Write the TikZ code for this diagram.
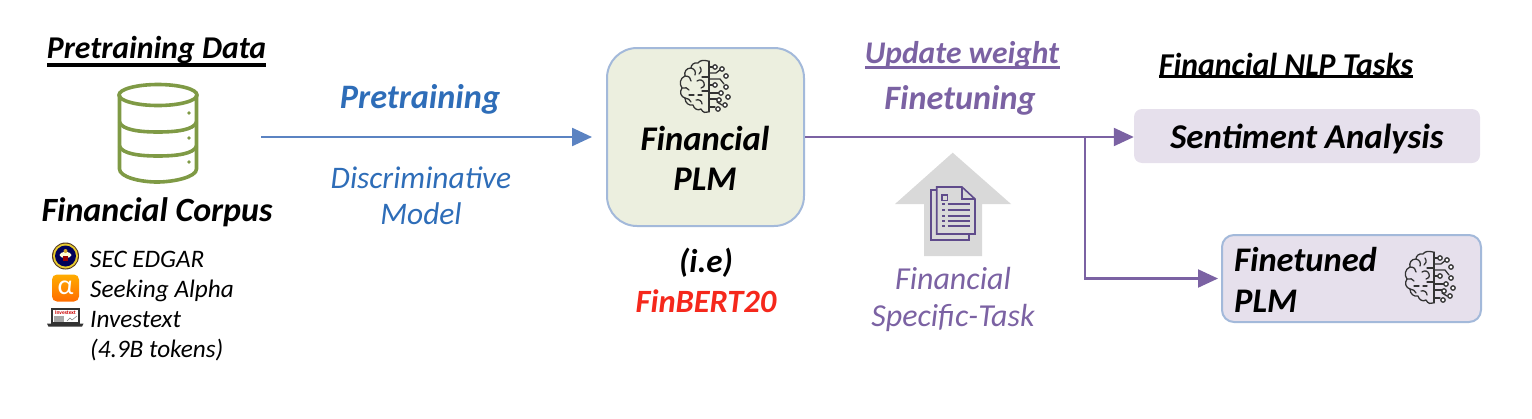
\documentclass[tikz,border=0pt]{standalone}
\usepackage{fontspec}
\setmainfont{Carlito}
\usetikzlibrary{arrows.meta,calc}
\definecolor{bluetxt}{HTML}{2E6DB8}
\definecolor{blueline}{HTML}{5B83C2}
\definecolor{purp}{HTML}{7B62A3}
\definecolor{purpdk}{HTML}{5F4B8B}
\definecolor{boxgreen}{HTML}{ECEFDF}
\definecolor{boxpurp}{HTML}{E6E0EC}
\definecolor{boxline}{HTML}{A3B9DA}
\definecolor{dbgreen}{HTML}{7F9A45}
\definecolor{redtxt}{HTML}{F5281C}
\definecolor{arrowgray}{HTML}{D9D9D9}
\newcommand{\fsz}[1]{\fontsize{#1}{#1}\selectfont}
\tikzset{
  x=1pt,y=-1pt,
  lbl/.style={inner sep=0pt,align=center,font=\fsz{#1}\itshape},
  blbl/.style={inner sep=0pt,align=center,font=\fsz{#1}\bfseries\itshape},
  src/.style={inner sep=0pt,anchor=west,font=\fsz{25.2}\itshape},
  plmbox/.style={draw=boxline,line width=2pt,fill=boxgreen,rounded corners=30pt,minimum width=197pt,minimum height=178pt,inner sep=0pt},
  taskbox/.style={fill=boxpurp,rounded corners=8pt,minimum width=346pt,minimum height=54pt,inner sep=0pt},
  tunedbox/.style={draw=boxline,line width=2pt,fill=boxpurp,rounded corners=12pt,minimum width=259pt,minimum height=87pt,inner sep=0pt},
  bluearrow/.style={draw=blueline,line width=2.4pt,-{Triangle[length=20pt,width=18pt]}},
  purparrow/.style={draw=purp,line width=2.2pt,-{Triangle[length=20pt,width=18pt]}},
  circuit/.style={line width=1.3pt,draw=black!80},
  brain/.pic={
    \begin{scope}[circuit,line cap=round,line join=round]
      % left hemisphere outline
      \draw (3,-26) .. controls (-1,-27) and (-5,-27) .. (-7,-24)
        .. controls (-11,-25) and (-14,-22) .. (-14,-19)
        .. controls (-19,-19) and (-21,-15) .. (-20,-11)
        .. controls (-25,-9) and (-26,-3) .. (-23,1)
        .. controls (-26,5) and (-24,10) .. (-20,11)
        .. controls (-20,16) and (-16,19) .. (-12,18)
        .. controls (-11,22) and (-7,24) .. (-4,22)
        .. controls (-2,26) and (1,26) .. (3,25);
      % inner folds
      \draw (-14,-19) .. controls (-10,-18) and (-9,-15) .. (-10,-12);
      \draw (-20,-11) .. controls (-16,-11) and (-14,-9) .. (-14,-6);
      \draw (-5,-20) .. controls (-3,-17) and (-4,-14) .. (-6,-13);
      \draw (-8,-6) .. controls (-5,-8) and (-2,-7) .. (-1,-4) .. controls (0,-1) and (-2,1) .. (-4,1);
      \draw (-23,1) .. controls (-20,0) and (-17,1) .. (-16,3);
      \draw (-16,8) -- (-11,8) (-7,8) -- (-3,8);
      \draw (-3,4) -- (3,4);
      \draw (-20,11) .. controls (-17,11) and (-15,13) .. (-14,15);
      \draw (-9,13) .. controls (-6,12) and (-3,14) .. (-3,17);
      \draw (-3,-10) -- (3,-10);
      % central line
      \draw (4,-26) -- (4,25);
      % traces
      \draw (4,-20) -- (9,-20);
      \draw (4,-14) -- (11,-14) -- (16,-18);
      \draw (4,-2) -- (9,-2);
      \draw (4,6) -- (14,6);
      \draw (4,12) -- (13,12);
      \draw (4,20) -- (10,20) ;
      \draw (4,-8) -- (15,-8) -- (19,-3);
      \draw (12,15) -- (17,18);
      % terminals
      \foreach \p in {(10,-20),(17,-18),(21,-11),(10,-2),(21,0),(16,6),(23,10),(14,13),(20,18),(13,22)}
        \draw[fill=white] \p circle (2.2);
    \end{scope}
  }
}
\begin{document}
\begin{tikzpicture}
\useasboundingbox (0,0) rectangle (1532,418);

% Left column
\node[blbl=31.7] (ptitle) at (156.5,50.5) {Pretraining Data};
\draw[line width=4pt] (47,64.5) -- (266,64.5);

% Database icon
\begin{scope}[draw=dbgreen,line width=3.6pt]
  \draw (119.5,95) -- (119.5,169) .. controls (119.5,177) and (140,182) .. (157,182) .. controls (174,182) and (196.5,177) .. (196.5,169) -- (196.5,95);
  \draw (158,95) ellipse (39 and 10.5);
  \draw (119.5,122) .. controls (122,130) and (140,132) .. (158,132) .. controls (176,132) and (194,130) .. (196.5,122);
  \draw (119.5,146) .. controls (122,154) and (140,156) .. (158,156) .. controls (176,156) and (194,154) .. (196.5,146);
  \fill[dbgreen] (189,113) circle (1.8) (189,138) circle (1.8) (189,162) circle (1.8);
\end{scope}
\node[blbl=34] (corpus) at (157,212) {Financial Corpus};

% SEC seal
\fill[black!55!brown] (65.5,256) circle (13.5);
\fill[yellow!60!brown] (65.5,256) circle (12.5);
\fill[blue!35!black] (65.5,256) circle (10.5);
\fill[white!85!yellow] (65.5,255) ellipse (6 and 3);
\fill[red!60!black] (63,256) rectangle (68,261);
\fill[brown!70!yellow] (65.5,251) circle (2);

% Alpha icon
\node[inner sep=0pt,minimum width=27pt,minimum height=27pt,rounded corners=5pt,top color=orange!65!yellow,bottom color=orange!85!red,text=white,font=\fsz{28}] (alpha) at (65.5,288) {α};

% Laptop icon
\draw[line width=1.2pt,draw=black!80,fill=white] (52,309) rectangle (79,323);
\fill[black!80] (47,323.5) -- (83.5,323.5) -- (82,326.5) -- (48.5,326.5) -- cycle;
\node[inner sep=0pt,text=red!80!black,font=\fsz{5.5}\bfseries] (lapname) at (65.5,313) {Investext};
\fill[black!35] (54,316) rectangle (64,321.5);
\draw[black!50,line width=.5pt] (67,321) -- (70,318) -- (72,320) -- (77,316);

\node[src] (sec) at (90,259.5) {SEC EDGAR};
\node[src] (seek) at (90,290.5) {Seeking Alpha};
\node[src] (inv) at (90,320) {Investext};
\node[src] (tok) at (90,350) {(4.9B tokens)};

% Centre
\node[plmbox] (plm) at (705.5,137) {};
\pic at (705,87) {brain};
\node[blbl=34.6] (plmt) at (705,158.5) {Financial\\[6pt]PLM};
\node[blbl=33] (ie) at (706,263) {(i.e)};
\node[blbl=32.5,text=redtxt] (finbert) at (706,301) {FinBERT20};

% Pretraining
\coordinate (ptstart) at (261,137);
\draw[bluearrow,shorten >=14pt] (ptstart) -- (plm.west);
\node[blbl=34.3,text=bluetxt] (ptl) at (420,99.5) {Pretraining};
\node[lbl=31.4,text=bluetxt] (disc) at (421,195.5) {Discriminative\\[5pt]Model};

% Right side
\node[blbl=31.5,text=purp] (upd) at (962,55.5) {Update weight};
\draw[purp,line width=2.5pt] (865,67.5) -- (1060,67.5);
\node[blbl=34.2,text=purp] (fine) at (960,100.5) {Finetuning};

\node[blbl=31.8] (nlp) at (1286,64) {Financial NLP Tasks};
\draw[line width=2.5pt] (1159,76.5) -- (1413,76.5);
\node[taskbox] (sent) at (1307,136) {};
\node[blbl=34.8] (sentt) at (1307,139) {Sentiment Analysis};
\node[tunedbox] (tuned) at (1351.5,278.5) {};
\node[blbl=34.5,anchor=west,align=left] (tunedt) at (1234,280) {Finetuned\\[6pt]PLM};
\pic at (1430,278) {brain};

\coordinate (branch) at (1085,137);
\draw[purparrow] (plm.east |- 0,137) -- (sent.west |- 0,137);
\draw[purparrow,shorten >=3pt] (branch) |- (tuned.west);

% Gray arrow with document
\fill[arrowgray] (952.7,152.7) -- (1011,204) -- (982,204) -- (982,256) -- (924,256) -- (924,204) -- (895,204) -- cycle;
\begin{scope}[draw=purpdk,line width=1.6pt,line join=miter]
  \draw (936.5,190) -- (931,190) -- (931,240) -- (969,240) -- (969,234);
  \draw (936.7,187) -- (962,187) -- (975,199) -- (975,234) -- (936.7,234) -- cycle;
  \draw (962,187) -- (962,199) -- (975,199);
  \draw (942,195) rectangle (947.5,200.5);
  \foreach \yy in {204,210,216,221,226} {
    \draw (942,\yy) -- (944.5,\yy);
    \draw (947.5,\yy) -- (970,\yy);
  }
\end{scope}
\node[lbl=32,text=purp] (spec) at (953,299.5) {Financial\\[5pt]Specific-Task};
\end{tikzpicture}
\end{document}
